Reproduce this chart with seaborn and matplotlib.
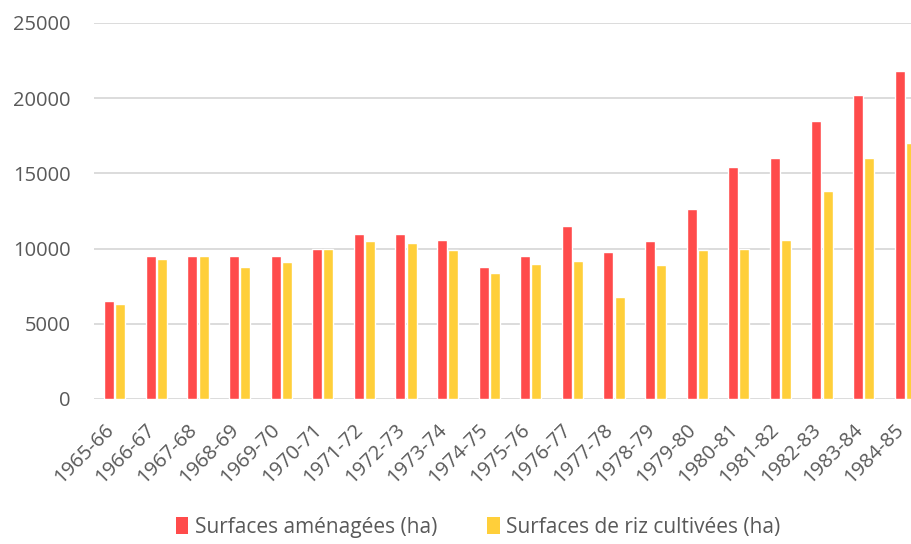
import matplotlib
matplotlib.use("Agg")
import matplotlib.pyplot as plt
import matplotlib.transforms as mtransforms
import seaborn as sns
import pandas as pd
from matplotlib.patches import Patch

campagnes = ["1965-66", "1966-67", "1967-68", "1968-69", "1969-70", "1970-71",
             "1971-72", "1972-73", "1973-74", "1974-75", "1975-76", "1976-77",
             "1977-78", "1978-79", "1979-80", "1980-81", "1981-82", "1982-83",
             "1983-84", "1984-85"]
surfaces_amenagees = [6500, 9500, 9500, 9500, 9500, 10000, 11000, 11000, 10600, 8800,
                      9500, 11500, 9800, 10500, 12600, 15400, 16000, 18500, 20200, 21800]
surfaces_riz = [6300, 9300, 9500, 8800, 9100, 10000, 10500, 10400, 9900, 8400,
                9000, 9200, 6800, 8900, 9900, 10000, 10600, 13800, 16000, 17000]
series = ["Surfaces aménagées (ha)", "Surfaces de riz cultivées (ha)"]
y_ticks = [0, 5000, 10000, 15000, 20000, 25000]

df = pd.DataFrame({
    "campagne": campagnes * 2,
    "valeur": surfaces_amenagees + surfaces_riz,
    "serie": [series[0]] * len(campagnes) + [series[1]] * len(campagnes),
})

sns.set_theme(style="white")
plt.rcParams["font.family"] = ["Open Sans", "DejaVu Sans"]

fig = plt.figure(figsize=(9.12, 5.44), dpi=100)
ax = fig.add_axes([94 / 912, 145 / 544, 832 / 912, 376 / 544])

palette = {series[0]: "#FF4B4B", series[1]: "#FFCF3A"}
sns.barplot(data=df, x="campagne", y="valeur", hue="serie", palette=palette,
            width=0.54, gap=0.12, saturation=1, ax=ax, legend=False)

FS = 14.5
ax.set_xlim(-0.5, len(campagnes) - 0.5)
ax.set_ylim(0, 25000)
ax.set_yticks(y_ticks)
ax.set_yticklabels([str(v) for v in y_ticks])
ax.yaxis.grid(True, color="#D9D9D9", linewidth=1.3)
ax.set_axisbelow(True)
for s in ax.spines.values():
    s.set_visible(False)
ax.set_xlabel("")
ax.set_ylabel("")
ax.tick_params(axis="y", length=0, pad=17, labelsize=FS, labelcolor="#595959")
ax.tick_params(axis="x", length=0, pad=15, labelsize=FS, labelcolor="#595959")
shift = mtransforms.ScaledTranslation(-11 / 100, 0, fig.dpi_scale_trans)
for lbl in ax.get_xticklabels():
    lbl.set_rotation(45)
    lbl.set_ha("right")
    lbl.set_rotation_mode("anchor")
    lbl.set_transform(lbl.get_transform() + shift)

handles = [Patch(facecolor=palette[s], edgecolor="none") for s in series]
fig.legend(handles, series, loc="center", bbox_to_anchor=(478 / 912, 1 - 527 / 544),
           ncol=2, frameon=False, fontsize=15, handlelength=0.62, handleheight=0.85,
           handletextpad=0.3, columnspacing=2.4, labelcolor="#595959")

fig.savefig("out.png", dpi=100)
